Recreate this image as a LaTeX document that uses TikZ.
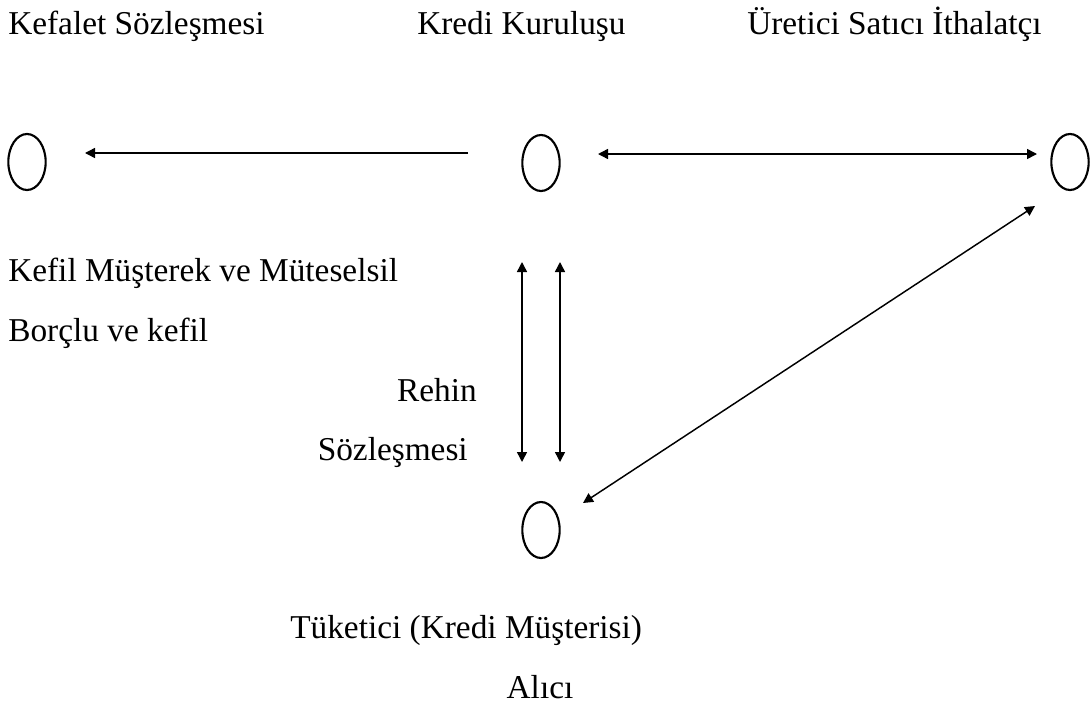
\documentclass[tikz,border=0pt]{standalone}
\usepackage{fontspec}
\setmainfont{Liberation Serif}
\usetikzlibrary{arrows.meta,shapes.geometric}
\begin{document}
\begin{tikzpicture}[x=0.75pt,y=-0.75pt,
  party/.style={draw,ellipse,line width=1.6pt,inner sep=0pt,minimum width=28pt,minimum height=42pt},
  lbl/.style={inner sep=0pt,font=\fontsize{25}{30}\selectfont},
  conn/.style={line width=1.1pt,-{Triangle[length=7.5pt,width=7.5pt]}},
  dconn/.style={line width=1.1pt,{Triangle[length=7.5pt,width=7.5pt]}-{Triangle[length=7.5pt,width=7.5pt]}}]
\useasboundingbox (0,0) rectangle (1091,703);
% ellipses
\node[party] (guar) at (27,162) {};
\node[party] (bank) at (541,163) {};
\node[party] (sell) at (1070,162) {};
\node[party] (cons) at (541,530) {};
% labels
\node[lbl,anchor=base west] (t1) at (8,34) {Kefalet Sözleşmesi};
\node[lbl,anchor=base west] (t2) at (417,34) {Kredi Kuruluşu};
\node[lbl,anchor=base west] (t3) at (747,34) {Üretici Satıcı İthalatçı};
\node[lbl,anchor=base west] (t4) at (8,281) {Kefil Müşterek ve Müteselsil};
\node[lbl,anchor=base west] (t5) at (8,341) {Borçlu ve kefil};
\node[lbl,anchor=base east] (t6) at (477,401) {Rehin};
\node[lbl,anchor=base east] (t7) at (468,460) {Sözleşmesi};
\node[lbl,anchor=base west] (t8) at (290,638) {Tüketici (Kredi Müşterisi)};
\node[lbl,anchor=base] (t9) at (540,698) {Alıcı};
% connector ends
\coordinate (a1s) at (468,153);
\coordinate (a1e) at (85,153);
\coordinate (a2s) at (598,154);
\coordinate (a2e) at (1037,154);
\coordinate (v1s) at (522,262);
\coordinate (v1e) at (522,462);
\coordinate (v2s) at (560,262);
\coordinate (v2e) at (560,462);
\coordinate (d1s) at (583,503);
\coordinate (d1e) at (1035,206);
% connectors
\draw[conn] (a1s) -- (a1e);
\draw[dconn] (a2s) -- (a2e);
\draw[dconn] (v1s) -- (v1e);
\draw[dconn] (v2s) -- (v2e);
\draw[dconn] (d1s) -- (d1e);
\end{tikzpicture}
\end{document}
